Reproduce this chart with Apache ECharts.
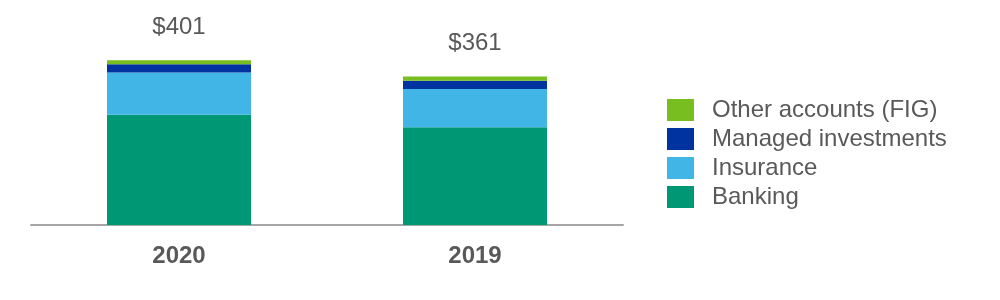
<!DOCTYPE html>
<html>
<head>
<meta charset="utf-8">
<script src="https://cdn.jsdelivr.net/npm/echarts@6/dist/echarts.min.js"></script>
<style>
html,body{margin:0;padding:0;background:#fff;}
#chart{width:1000px;height:300px;}
</style>
</head>
<body>
<div id="chart"></div>
<script>
var categories = ['2020', '2019'];
var banking = [268, 238];
var insurance = [103, 93];
var managedInvestments = [20, 20];
var otherAccounts = [10, 10];
var totals = [401, 361];

var chart = echarts.init(document.getElementById('chart'));
var font = '"Liberation Sans", Arial, sans-serif';
var textColor = '#595959';

function seriesOf(name, data, color, withLabel) {
  var s = {
    name: name,
    type: 'bar',
    stack: 'total',
    data: data,
    barWidth: 144,
    itemStyle: { color: color },
    emphasis: { disabled: true }
  };
  if (withLabel) {
    s.label = {
      show: true,
      position: 'top',
      distance: 21,
      fontFamily: font,
      fontSize: 24,
      color: textColor,
      formatter: function (p) { return '$' + totals[p.dataIndex]; }
    };
  }
  return s;
}

chart.setOption({
  animation: false,
  backgroundColor: '#fff',
  grid: { left: 31, right: 377, top: 40, bottom: 75 },
  legend: {
    orient: 'vertical',
    left: 662,
    top: 93,
    itemWidth: 27,
    itemHeight: 22,
    itemGap: 5,
    icon: 'rect',
    data: ['Other accounts (FIG)', 'Managed investments', 'Insurance', 'Banking'],
    textStyle: { fontFamily: font, fontSize: 24, lineHeight: 22, color: textColor, padding: [0, 0, 0, 13] }
  },
  xAxis: {
    type: 'category',
    data: categories,
    axisLine: { show: true, lineStyle: { color: '#a6a6a6', width: 2 } },
    axisTick: { show: false },
    axisLabel: { fontFamily: font, fontSize: 24, fontWeight: 'bold', color: textColor, margin: 19 }
  },
  yAxis: {
    type: 'value',
    min: 0,
    max: 450,
    show: false,
    splitLine: { show: false }
  },
  series: [
    seriesOf('Banking', banking, '#009874', false),
    seriesOf('Insurance', insurance, '#41b6e6', false),
    seriesOf('Managed investments', managedInvestments, '#0032a0', false),
    seriesOf('Other accounts (FIG)', otherAccounts, '#78be20', true)
  ]
});
</script>
</body>
</html>
